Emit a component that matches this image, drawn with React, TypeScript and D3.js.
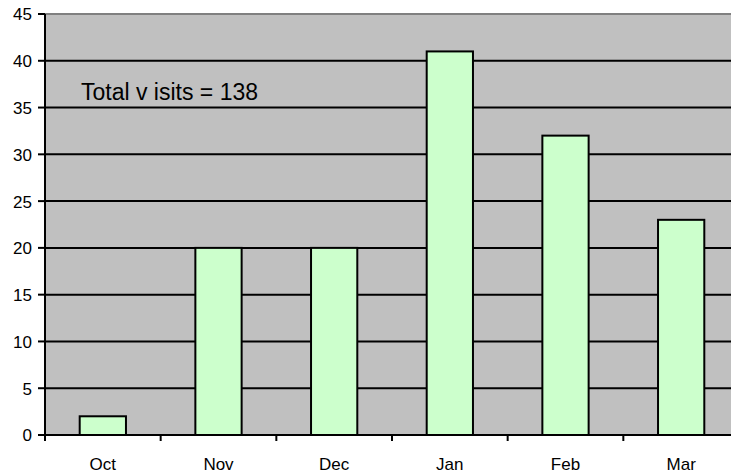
import React from "react";
import * as d3 from "d3";

// Monthly visits
const months = ["Oct", "Nov", "Dec", "Jan", "Feb", "Mar"];
const visits = [2, 20, 20, 41, 32, 23];
const yTicks = [0, 5, 10, 15, 20, 25, 30, 35, 40, 45];
const note = "Total v isits = 138";

export default function App() {
  const width = 731, height = 474;
  const margin = { top: 14, right: -8, bottom: 39, left: 45 };

  const x = d3.scaleBand()
    .domain(months)
    .range([margin.left, width - margin.right])
    .paddingInner(0.6)
    .paddingOuter(0.3);
  const y = d3.scaleLinear().domain([0, 45]).range([height - margin.bottom, margin.top]);

  const step = x.step();
  const x0 = margin.left;
  const tickXs = months.map((_, i) => x0 + i * step);
  const font = "'Liberation Sans', Arial, sans-serif";

  return (
    <svg width={width} height={height} style={{ position: "absolute", left: 0, top: 0 }}>
      {/* plot background */}
      <rect x={margin.left} y={margin.top} width={width - margin.left} height={y(0) - margin.top} fill="#c0c0c0" />
      <line x1={margin.left} x2={width} y1={margin.top} y2={margin.top} stroke="#808080" strokeWidth={2} />

      {/* gridlines */}
      {yTicks.filter(t => t > 0 && t < 45).map(t => (
        <line key={t} x1={margin.left} x2={width} y1={y(t)} y2={y(t)} stroke="#000" strokeWidth={2} />
      ))}

      {/* bars */}
      {months.map((m, i) => (
        <rect key={m}
          x={x(m)!} y={y(visits[i])}
          width={x.bandwidth()} height={y(0) - y(visits[i])}
          fill="#ccffcc" stroke="#000" strokeWidth={2} />
      ))}

      {/* y axis */}
      <line x1={margin.left} x2={margin.left} y1={margin.top} y2={y(0)} stroke="#000" strokeWidth={2} />
      {yTicks.map(t => (
        <g key={t}>
          <line x1={margin.left - 7} x2={margin.left} y1={y(t)} y2={y(t)} stroke="#000" strokeWidth={2} />
          <text x={margin.left - 13} y={y(t)} dy="0.38em" textAnchor="end" fontFamily={font} fontSize={17} fill="#000">{t}</text>
        </g>
      ))}

      {/* x axis */}
      <line x1={margin.left} x2={width} y1={y(0)} y2={y(0)} stroke="#000" strokeWidth={2} />
      {tickXs.map((tx, i) => (
        <line key={i} x1={tx} x2={tx} y1={y(0)} y2={y(0) + 6} stroke="#000" strokeWidth={2} />
      ))}
      {months.map(m => (
        <text key={m} x={x(m)! + x.bandwidth() / 2} y={470} textAnchor="middle" fontFamily={font} fontSize={17} fill="#000">{m}</text>
      ))}

      <text x={81} y={100} fontFamily={font} fontSize={23} fill="#000">{note}</text>
    </svg>
  );
}
